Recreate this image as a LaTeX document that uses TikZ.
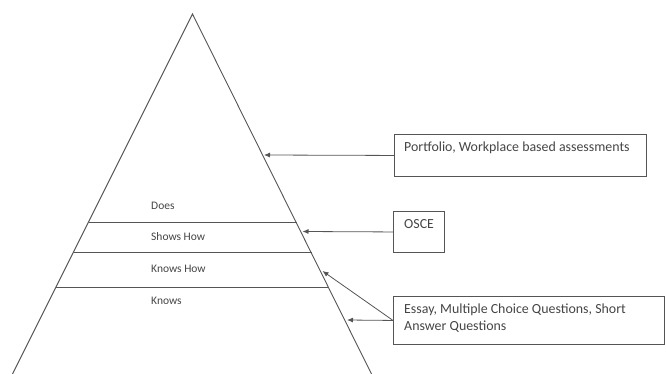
\documentclass[tikz,border=0pt]{standalone}
\usepackage{fontspec}
\setmainfont{Carlito}
\usetikzlibrary{arrows.meta,calc}
\definecolor{ln}{HTML}{555555}
\definecolor{tx}{HTML}{454545}
\tikzset{
  edge/.style={draw=ln, line width=0.9pt},
  box/.style={draw=ln, line width=0.9pt, rectangle, inner sep=0pt, anchor=north west},
  txt/.style={text=tx, font=\fontsize{11.5}{19}\selectfont, inner sep=0pt, anchor=west, align=left},
  btxt/.style={text=tx, font=\fontsize{13.9}{17.4}\selectfont, inner sep=0pt, anchor=north west, align=left},
  arr/.style={draw=ln, line width=0.8pt, -{Latex[length=6pt,width=5pt]}}
}
\begin{document}
\begin{tikzpicture}[x=1pt,y=-1pt]
\useasboundingbox (0,0) rectangle (666,374);
% pyramid
\coordinate (apex) at (192.5,14);
\coordinate (bl) at (12.5,374);
\coordinate (br) at (371.5,374);
\draw[edge] (bl) -- (apex) -- (br);
\draw[edge] (88.5,222) -- (296.5,222);
\draw[edge] (73.5,252) -- (311.5,252);
\draw[edge] (56,287) -- (329,287);
% level labels
\node[txt] (does) at (151,206) {Does};
\node[txt] (shows) at (151,237) {Shows How};
\node[txt] (knowshow) at (151,269) {Knows How};
\node[txt] (knows) at (151,301) {Knows};
% boxes
\node[box, minimum width=252, minimum height=42] (pbox) at (394,134) {};
\node[btxt] (ptxt) at (404,141.5) {Portfolio, Workplace based assessments};
\node[box, minimum width=51, minimum height=41] (obox) at (393,211) {};
\node[btxt] (otxt) at (404,219) {OSCE};
\node[box, minimum width=271, minimum height=48] (ebox) at (393,296) {};
\node[btxt] (etxt) at (404,303.5) {Essay, Multiple Choice Questions, Short\\Answer Questions};
% arrow targets on the pyramid side
\coordinate (tp) at (264,155);
\coordinate (to) at (302.5,231.5);
\coordinate (tk) at (322.5,271);
\coordinate (te) at (347,320);
\draw[arr] (pbox.west) -- (tp);
\draw[arr] (obox.west) -- (to);
\draw[arr] (ebox.west) -- (te);
\draw[arr] (ebox.west) -- (tk);
\end{tikzpicture}
\end{document}
